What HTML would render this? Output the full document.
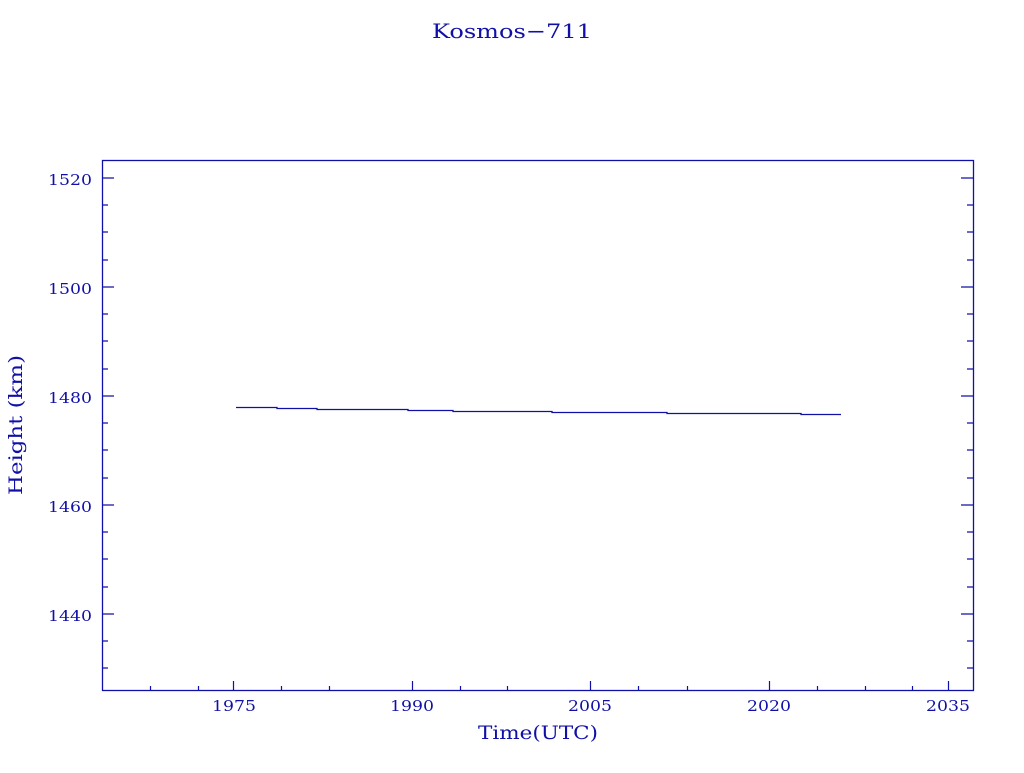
<!DOCTYPE html>
<html><head><meta charset="utf-8"><style>html,body{margin:0;padding:0;background:#fff}</style></head>
<body>
<svg width="1024" height="768" xmlns="http://www.w3.org/2000/svg" font-family="DejaVu Serif, Liberation Serif, serif" fill="#1010a8">
<text x="432" y="38" font-size="20" textLength="160" lengthAdjust="spacingAndGlyphs">Kosmos−711</text>
<rect x="102.5" y="160.5" width="871" height="530" fill="none" stroke="#1010a8" stroke-width="1.3"/>
<g stroke="#1010a8" stroke-width="1.2">
<path d="M102 178h12M102 287h12M102 396h12M102 505h12M102 614h12M973 178h-12M973 287h-12M973 396h-12M973 505h-12M973 614h-12"/>
<path d="M102 205h6M102 232h6M102 260h6M102 314h6M102 341h6M102 369h6M102 423h6M102 450h6M102 478h6M102 532h6M102 559h6M102 587h6M102 641h6M102 668h6
M973 205h-6M973 232h-6M973 260h-6M973 314h-6M973 341h-6M973 369h-6M973 423h-6M973 450h-6M973 478h-6M973 532h-6M973 559h-6M973 587h-6M973 641h-6M973 668h-6"/>
<path d="M233.5 690v-9M412.5 690v-9M590.5 690v-9M769.5 690v-9M948.5 690v-9"/>
<path d="M150.5 690v-4M198.5 690v-4M281.5 690v-4M329.5 690v-4M460.5 690v-4M507.5 690v-4M638.5 690v-4M687.5 690v-4M817.5 690v-4M865.5 690v-4M912.5 690v-4"/>
</g>
<path d="M236 407.5H277V408.5H317V409.5H408V410.5H453V411.5H552V412.5H667V413.5H801V414.5H841" fill="none" stroke="#1010a8" stroke-width="1.3"/>
<g font-size="15">
<text x="48" y="185" textLength="44" lengthAdjust="spacingAndGlyphs">1520</text>
<text x="48" y="294" textLength="44" lengthAdjust="spacingAndGlyphs">1500</text>
<text x="48" y="403" textLength="44" lengthAdjust="spacingAndGlyphs">1480</text>
<text x="48" y="512" textLength="44" lengthAdjust="spacingAndGlyphs">1460</text>
<text x="48" y="621" textLength="44" lengthAdjust="spacingAndGlyphs">1440</text>
<text x="212" y="711" textLength="44" lengthAdjust="spacingAndGlyphs">1975</text>
<text x="390" y="711" textLength="44" lengthAdjust="spacingAndGlyphs">1990</text>
<text x="568" y="711" textLength="44" lengthAdjust="spacingAndGlyphs">2005</text>
<text x="747" y="711" textLength="44" lengthAdjust="spacingAndGlyphs">2020</text>
<text x="926" y="711" textLength="44" lengthAdjust="spacingAndGlyphs">2035</text>
</g>
<text x="478" y="739" font-size="19" textLength="120" lengthAdjust="spacingAndGlyphs">Time(UTC)</text>
<text transform="translate(22,495) rotate(-90)" font-size="19" textLength="140" lengthAdjust="spacingAndGlyphs">Height (km)</text>
</svg>
</body></html>
